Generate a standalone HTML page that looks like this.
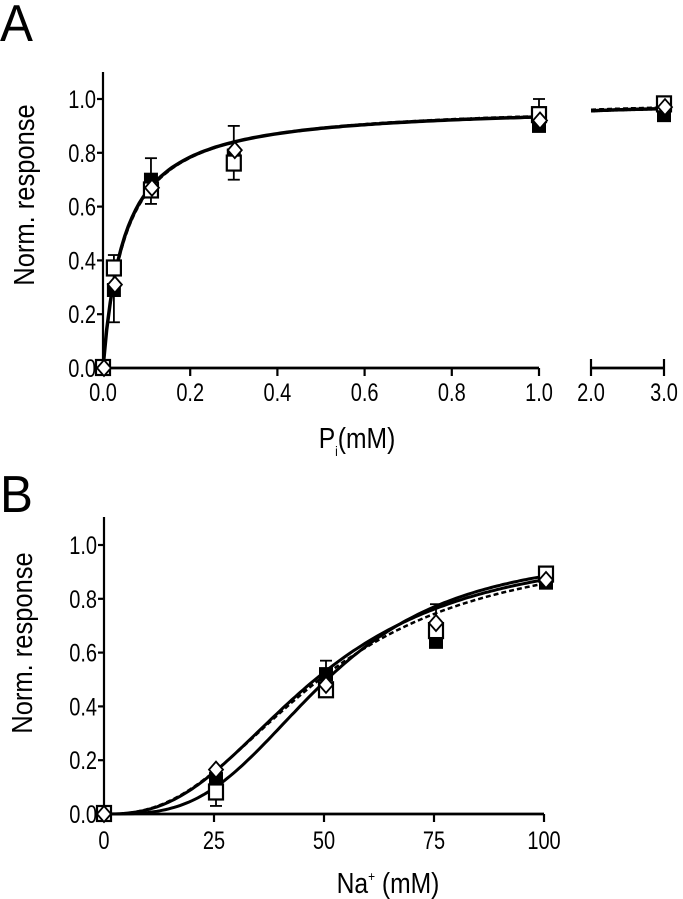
<!DOCTYPE html>
<html><head><meta charset="utf-8"><style>
body{margin:0;background:#fff}
svg{display:block;font-family:"Liberation Sans",Arial,sans-serif}
</style></head><body>
<svg id="fig" width="683" height="899" viewBox="0 0 683 899" xmlns="http://www.w3.org/2000/svg"></svg>
<script>
// Panel A data
const aX = [0, 0.025, 0.11, 0.3, 1.0, 3.0];
const aFilled = [0, 0.29, 0.70, 0.79, 0.90, 0.94];
const aOpen = [0, 0.37, 0.66, 0.76, 0.94, 0.98];
const aDiamond = [0, 0.31, 0.67, 0.81, 0.92, 0.97];
const aErrOpenHi = [0, 0.42, 0.64, 0.72, 1.0, 0.99];
const aErrFilledLo = [0, 0.17, 0.61, 0.70, 0.90, 0.94];
const aErrDiamondHi = [0, 0.31, 0.78, 0.90, 0.92, 0.97];
const aTicksY = ["0.0","0.2","0.4","0.6","0.8","1.0"];
const aTicksX1 = ["0.0","0.2","0.4","0.6","0.8","1.0"];
const aTicksX2 = ["2.0","3.0"];
const aFitVmax = [0.98, 0.985];
const aFitK = [0.05, 0.052];
// Panel B data
const bX = [0, 25, 50, 75, 100];
const bFilled = [0, 0.13, 0.52, 0.64, 0.86];
const bOpen = [0, 0.08, 0.46, 0.68, 0.89];
const bDiamond = [0, 0.165, 0.48, 0.71, 0.87];
const bErrHi = [0, 0.165, 0.57, 0.78, 0.91];
const bErrLo = [0, 0.03, 0.44, 0.64, 0.86];
const bTicksY = ["0.0","0.2","0.4","0.6","0.8","1.0"];
const bTicksX = ["0","25","50","75","100"];
const bFitVmax = [1.0, 0.98, 1.0];
const bFitK = [48, 50, 49];
const bFitN = [2.6, 3.2, 2.5];

const NS="http://www.w3.org/2000/svg";
const svg=document.getElementById('fig');
function mk(tag,attrs,parent){const e=document.createElementNS(NS,tag);for(const k in attrs)e.setAttribute(k,attrs[k]);(parent||svg).appendChild(e);return e;}
function txt(s,x,y,size,anchor,parent,sx){const t=mk('text',{x:0,y:0,'font-size':size,'text-anchor':anchor||'middle',fill:'#000',transform:`translate(${x},${y}) scale(${sx||0.8},1)`},parent);t.textContent=s;return t;}

const A={x0:103,x1:539,x2a:591,x2b:664,y0:368,y1:99};
function axA(v){return v<=1? A.x0+(A.x1-A.x0)*v : A.x2a+(A.x2b-A.x2a)*(v-2);}
function ayA(v){return A.y0-(A.y0-A.y1)*v;}
const B={x0:104,x1:544,y0:814,y1:545};
function axB(v){return B.x0+(B.x1-B.x0)*v/100;}
function ayB(v){return B.y0-(B.y0-B.y1)*v;}

function marker(kind,x,y,g){
  let e;
  if(kind==='filled'){e=mk('rect',{x:x-7,y:y-7,width:14,height:14,fill:'#000'},g);}
  else if(kind==='open'){e=mk('rect',{x:x-7,y:y-8,width:14,height:15,fill:'#fff',stroke:'#000','stroke-width':2.2},g);}
  else {e=mk('polygon',{points:`${x},${y-8} ${x+7},${y} ${x},${y+8} ${x-7},${y}`,fill:'#fff',stroke:'#000','stroke-width':1.8},g);}
  return e;
}
function errbar(x,ya,yb,g){
  mk('line',{x1:x,y1:ya,x2:x,y2:yb,stroke:'#000','stroke-width':1.8},g);
  mk('line',{x1:x-6,y1:yb,x2:x+6,y2:yb,stroke:'#000','stroke-width':1.8},g);
}

// ===== Panel A
const pa=mk('g',{});  
let l=txt('A',0,41,52,'start',pa,0.95);  
let yax=mk('line',{x1:A.x0,y1:72,x2:A.x0,y2:A.y0+1,stroke:'#000','stroke-width':2.2},pa);
 
let xa1=mk('line',{x1:A.x0,y1:A.y0,x2:A.x1,y2:A.y0,stroke:'#000','stroke-width':2.8},pa);
 
let xa2=mk('line',{x1:A.x2a,y1:A.y0,x2:A.x2b,y2:A.y0,stroke:'#000','stroke-width':2.8},pa);
 
aTicksY.forEach((s,i)=>{const v=i*0.2,y=ayA(v);
  mk('line',{x1:A.x0-6,y1:y,x2:A.x0,y2:y,stroke:'#000','stroke-width':2.2},pa);
  const t=txt(s,A.x0-7,y+9,25,'end',pa);  });
aTicksX1.forEach((s,i)=>{const x=axA(i*0.2);
  mk('line',{x1:x,y1:A.y0,x2:x,y2:A.y0+8,stroke:'#000','stroke-width':2.2},pa);
  const t=txt(s,x,401,25,'middle',pa);  });
aTicksX2.forEach((s,i)=>{const x=axA(2+i);
  mk('line',{x1:x,y1:A.y0-9,x2:x,y2:A.y0+8,stroke:'#000','stroke-width':2.2},pa);
  const t=txt(s,x,401,25,'middle',pa);  });
let yt=mk('text',{x:0,y:0,'font-size':29,'text-anchor':'middle',transform:'translate(34,195) rotate(-90) scale(0.88,1)'},pa); yt.textContent='Norm. response';
 
let xt=mk('text',{x:0,y:0,'font-size':29,'text-anchor':'middle',transform:'translate(357,448) scale(0.85,1)'},pa); xt.innerHTML='P<tspan font-size="14" dy="8">i</tspan><tspan dy="-8">(mM)</tspan>';
 
aFitVmax.forEach((vm,k)=>{const K=aFitK[k];
  [[0,1],[2,3]].forEach(([lo,hi])=>{let d='';for(let i=0;i<=120;i++){const x=lo+(hi-lo)*i/120;const y=vm*x/(K+x);d+=(i?'L':'M')+axA(x).toFixed(1)+','+ayA(y).toFixed(1);}
    const p=mk('path',{d:d,fill:'none',stroke:'#000','stroke-width':k?2.5:3.5,'stroke-dasharray':k?'5,3':'none'},pa);
     });
});
aX.forEach((x,i)=>{const px=axA(x);
  if(aErrOpenHi[i]>aOpen[i]) errbar(px,ayA(aOpen[i]),ayA(aErrOpenHi[i]),pa);
  if(aErrFilledLo[i]<aFilled[i]) errbar(px,ayA(aFilled[i]),ayA(aErrFilledLo[i]),pa);
  if(aErrDiamondHi[i]>aDiamond[i]) errbar(px,ayA(aDiamond[i]),ayA(aErrDiamondHi[i]),pa);
  let m=marker('filled',px,ayA(aFilled[i]),pa);  
  m=marker('open',px,ayA(aOpen[i]),pa);  
  m=marker('diamond',px+1,ayA(aDiamond[i]),pa);  
});

// ===== Panel B
const pb=mk('g',{});  
l=txt('B',0,512,52,'start',pb,0.95);  
yax=mk('line',{x1:B.x0,y1:517,x2:B.x0,y2:B.y0+1,stroke:'#000','stroke-width':2.2},pb);
 
let xb=mk('line',{x1:B.x0,y1:B.y0,x2:B.x1,y2:B.y0,stroke:'#000','stroke-width':2.8},pb);
 
bTicksY.forEach((s,i)=>{const y=ayB(i*0.2);
  mk('line',{x1:B.x0-6,y1:y,x2:B.x0,y2:y,stroke:'#000','stroke-width':2.2},pb);
  const t=txt(s,B.x0-7,y+9,25,'end',pb);  });
bTicksX.forEach((s,i)=>{const x=axB(i*25);
  mk('line',{x1:x,y1:B.y0,x2:x,y2:B.y0+8,stroke:'#000','stroke-width':2.2},pb);
  const t=txt(s,x,849,25,'middle',pb);  });
yt=mk('text',{x:0,y:0,'font-size':29,'text-anchor':'middle',transform:'translate(32,643) rotate(-90) scale(0.88,1)'},pb); yt.textContent='Norm. response';
 
xt=mk('text',{x:0,y:0,'font-size':29,'text-anchor':'middle',transform:'translate(388,893) scale(0.85,1)'},pb); xt.innerHTML='Na<tspan font-size="14" dy="-12">+</tspan><tspan dy="12"> (mM)</tspan>';
 
bFitVmax.forEach((vm,k)=>{let d='';for(let i=0;i<=150;i++){const x=100*i/150;const r=Math.pow(x/bFitK[k],bFitN[k]);const y=vm*r/(1+r);d+=(i?'L':'M')+axB(x).toFixed(1)+','+ayB(y).toFixed(1);}
  const p=mk('path',{d:d,fill:'none',stroke:'#000','stroke-width':k===2?2.5:3,'stroke-dasharray':k===2?'5,3':'none'},pb);
   });
bX.forEach((x,i)=>{const px=axB(x)+(x>0?2:0);
  if(bErrHi[i]>0) errbar(px,ayB(Math.max(bFilled[i],bOpen[i],bDiamond[i])),ayB(bErrHi[i]),pb);
  if(bErrLo[i]>0 && bErrLo[i]<bOpen[i]) errbar(px,ayB(bOpen[i]),ayB(bErrLo[i]),pb);
  let m=marker('filled',px,ayB(bFilled[i]),pb);  
  m=marker('open',px,ayB(bOpen[i]),pb);  
  m=marker('diamond',px,ayB(bDiamond[i]),pb);  
});
</script>
</body></html>
